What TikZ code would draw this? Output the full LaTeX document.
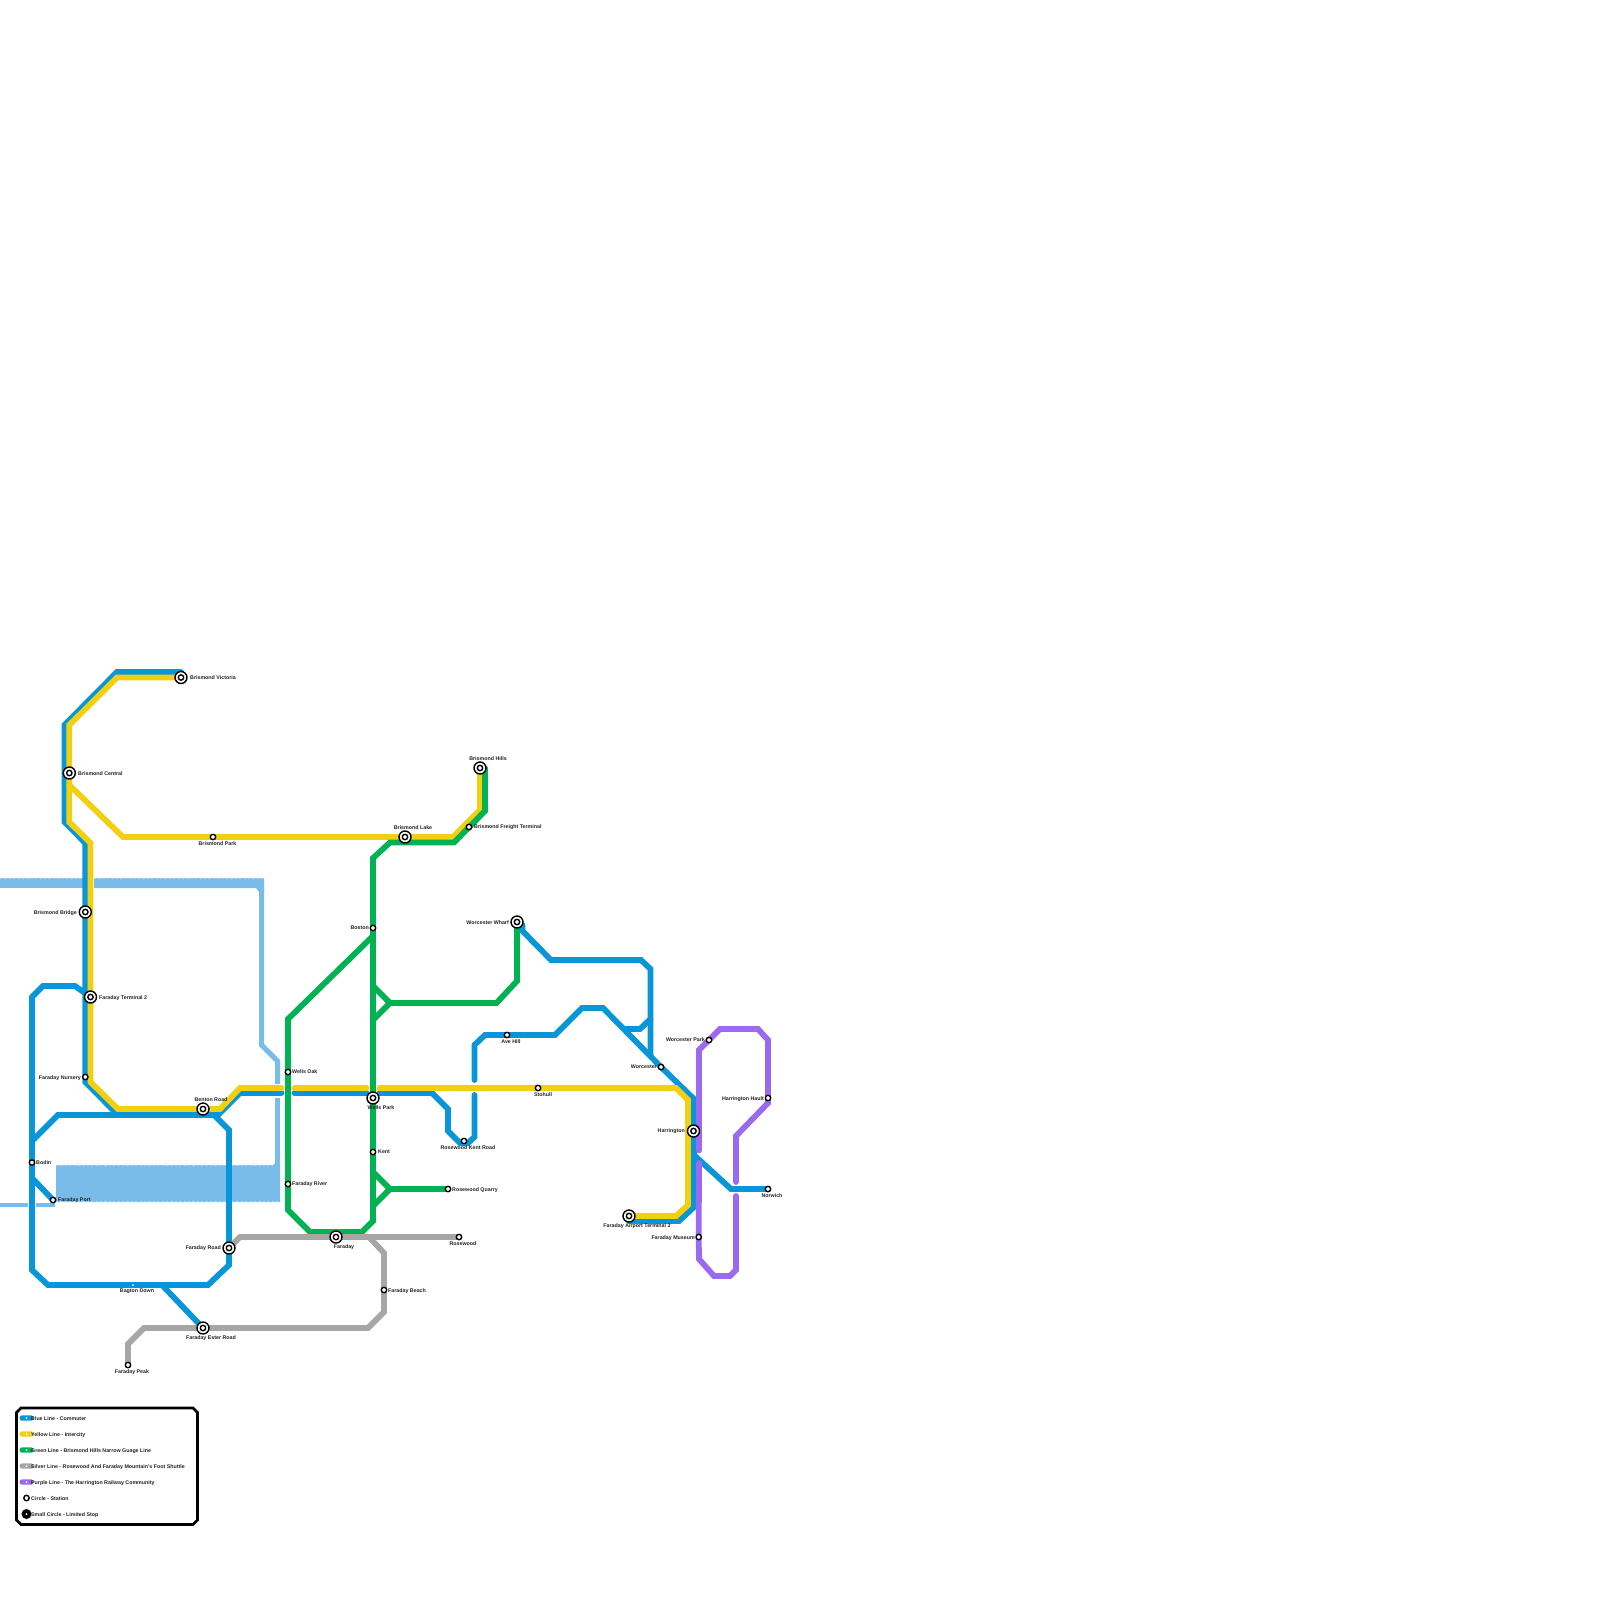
\documentclass[tikz,border=0pt]{standalone}
\usepackage{fontspec}
\setmainfont{Liberation Sans}
\pgfdeclarelayer{lines}
\pgfsetlayers{lines,main}
\definecolor{blueL}{HTML}{0996D8}
\definecolor{yellowL}{HTML}{F2CF11}
\definecolor{greenL}{HTML}{00B252}
\definecolor{grayL}{HTML}{A6A6A6}
\definecolor{purpleL}{HTML}{9B6AEE}
\definecolor{waterL}{HTML}{7ABCE9}
\definecolor{ink}{HTML}{222222}
\tikzset{
  stn/.style={circle,draw=black,fill=white,line width=1.4pt,minimum size=5.4pt,inner sep=0pt},
  hub/.style={circle,draw=black,fill=white,line width=1.4pt,minimum size=12pt,inner sep=0pt,
    path picture={\draw[black,line width=1.4pt] (path picture bounding box.center) circle (2.7pt);}},
  tiny/.style={circle,fill=white,minimum size=2pt,inner sep=0pt},
  lab/.style={font=\fontsize{5.3}{5.3}\selectfont\bfseries,text=ink,inner sep=0pt,yshift=-0.7pt},
  trk/.style={line width=5.8pt,line cap=round,line join=miter,miter limit=3},
  tb/.style={trk,draw=blueL},
  ty/.style={trk,draw=yellowL},
  tg/.style={trk,draw=greenL},
  ts/.style={trk,draw=grayL},
  tp/.style={trk,draw=purpleL},
  water/.style={line width=5pt,draw=waterL,line cap=butt,line join=miter},
  shore/.style={draw=white,opacity=.4,line width=.7pt,dash pattern=on 2.2pt off 2.2pt},
  pill/.style={rounded corners=2.5pt,minimum width=14pt,minimum height=5.4pt,inner sep=0pt},
}
\begin{document}
\begin{tikzpicture}[x=1pt,y=-1pt]
\useasboundingbox (0,0) rectangle (1600,1600);
% stations
\node[hub] (bv) at (181,677.5) {};
\node[hub] (bc) at (69.3,773) {};
\node[stn] (bp) at (213,837) {};
\node[hub] (bb) at (85.3,912) {};
\node[hub] (ft) at (90.5,997) {};
\node[stn] (fn) at (85.3,1077) {};
\node[hub] (br) at (203,1109) {};
\node[stn] (bo) at (32,1162.5) {};
\node[stn] (fp) at (53,1200) {};
\node[hub] (fr) at (229,1248) {};
\node[tiny] (bd) at (133,1285) {};
\node[hub] (fe) at (203,1328) {};
\node[stn] (pk) at (128,1365) {};
\node[hub] (fa) at (336,1237) {};
\node[stn] (fb) at (384,1290) {};
\node[stn] (wo) at (288,1072) {};
\node[stn] (fv) at (288,1184) {};
\node[hub] (wp) at (373,1098) {};
\node[stn] (ke) at (373,1152) {};
\node[stn] (rq) at (448,1189) {};
\node[stn] (rk) at (464,1141) {};
\node[stn] (rw) at (459,1237) {};
\node[stn] (ah) at (507,1035) {};
\node[stn] (sh) at (538,1088) {};
\node[stn] (wc) at (661,1067) {};
\node[stn] (wk) at (709,1040) {};
\node[stn] (hh) at (768,1098) {};
\node[hub] (ha) at (693.5,1131) {};
\node[hub] (at) at (629,1216) {};
\node[stn] (fm) at (698.7,1237) {};
\node[stn] (nw) at (768,1189) {};
\node[hub] (bh) at (480,768) {};
\node[hub] (bl) at (405,837) {};
\node[stn] (bf) at (469,827) {};
\node[stn] (bs) at (373,928) {};
\node[hub] (ww) at (517,922) {};
% labels
\node[lab,anchor=west] (tbv) at (190,677) {Brismond Victoria};
\node[lab,anchor=west] (tbc) at (78,773) {Brismond Central};
\node[lab] (tbp) at (217.5,843) {Brismond Park};
\node[lab,anchor=east] (tbb) at (77,912) {Brismond Bridge};
\node[lab,anchor=west] (tft) at (99,997) {Faraday Terminal 2};
\node[lab,anchor=east] (tfn) at (81,1077) {Faraday Nursery};
\node[lab] (tbr) at (211,1099) {Benton Road};
\node[lab,anchor=west] (tbo) at (36,1162) {Bodin};
\node[lab,anchor=west] (tfp) at (58,1199) {Faraday Port};
\node[lab,anchor=east] (tfr) at (221,1247) {Faraday Road};
\node[lab] (tbd) at (137,1291) {Bagton Down};
\node[lab] (tfe) at (211,1337) {Faraday Ester Road};
\node[lab] (tpk) at (132,1371) {Faraday Peak};
\node[lab] (tfa) at (344,1246) {Faraday};
\node[lab,anchor=west] (tfb) at (388,1290) {Faraday Beach};
\node[lab,anchor=west] (two) at (292,1071) {Wells Oak};
\node[lab,anchor=west] (tfv) at (292,1183) {Faraday River};
\node[lab] (twp) at (381,1107) {Wells Park};
\node[lab,anchor=west] (tke) at (378,1151) {Kent};
\node[lab,anchor=west] (trq) at (452,1189) {Rosewood Quarry};
\node[lab] (trk) at (468,1147) {Rosewood Kent Road};
\node[lab] (trw) at (463,1243) {Rosewood};
\node[lab] (tah) at (511,1041) {Ave Hill};
\node[lab] (tsh) at (543,1094) {Stohull};
\node[lab,anchor=east] (twc) at (657,1066) {Worcester};
\node[lab,anchor=east] (twk) at (705,1039) {Worcester Park};
\node[lab,anchor=east] (thh) at (764,1098) {Harrington Hault};
\node[lab,anchor=east] (tha) at (685,1130) {Harrington};
\node[lab] (tat) at (637,1225) {Faraday Airport Terminal 3};
\node[lab,anchor=east] (tfm) at (695,1237) {Faraday Museum};
\node[lab] (tnw) at (772,1195) {Norwich};
\node[lab] (tbh) at (488,758) {Brismond Hills};
\node[lab] (tbl) at (413,827) {Brismond Lake};
\node[lab,anchor=west] (tbf) at (474,826) {Brismond Freight Terminal};
\node[lab,anchor=east] (tbs) at (369,927) {Boston};
\node[lab,anchor=east] (tww) at (509,922) {Worcester Wharf};
% key
\draw[black,line width=2.6pt,line join=miter] (21,1408) -- (193,1408) -- (197.5,1412.5) -- (197.5,1520) -- (193,1524.5) -- (21,1524.5) -- (16.5,1520) -- (16.5,1412.5) -- cycle;
\node[pill,fill=blueL] (k1) at (26.5,1418) {};
\node[pill,fill=yellowL] (k2) at (26.5,1434) {};
\node[pill,fill=greenL] (k3) at (26.5,1450) {};
\node[pill,fill=grayL] (k4) at (26.5,1466) {};
\node[pill,fill=purpleL] (k5) at (26.5,1482) {};
\node[stn] (k6) at (26.5,1498) {};
\node[circle,fill=black,minimum size=10pt,inner sep=0pt] (k7) at (26.5,1514) {};
\foreach \k in {1,2,3,4,5,7} \node[tiny] (d\k) at (k\k.center) {};
\node[lab,anchor=west] (l1) at (31,1418) {Blue Line - Commuter};
\node[lab,anchor=west] (l2) at (31,1434) {Yellow Line - Intercity};
\node[lab,anchor=west] (l3) at (31,1450) {Green Line - Brismond Hills Narrow Guage Line};
\node[lab,anchor=west] (l4) at (31,1466) {Silver Line - Rosewood And Faraday Mountain's Foot Shuttle};
\node[lab,anchor=west] (l5) at (31,1482) {Purple Line - The Harrington Railway Community};
\node[lab,anchor=west] (l6) at (31,1498) {Circle - Station};
\node[lab,anchor=west] (l7) at (31,1514) {Small Circle - Limited Stop};
\begin{pgfonlayer}{lines}
% water
\fill[waterL] (0,878) rectangle (82.5,888);
\fill[waterL,rounded corners=0.6pt] (94,878) -- (264,878) -- (264,892) -- (259,892) -- (256,888) -- (94,888) -- cycle;
\draw[water] (261.5,885) -- (261.5,1045) -- (277.5,1061) -- (277.5,1084);
\draw[water] (277.5,1098) -- (277.5,1170);
\fill[waterL] (56,1165) -- (273,1165) -- (280,1158) -- (280,1202) -- (56,1202) -- cycle;
\draw[water,line width=4.6pt] (0,1205) -- (28,1205);
\draw[water,line width=4.6pt] (36,1205) -- (53,1205) -- (fp.center);
\draw[shore] (0,878.3) -- (82,878.3);
\draw[shore] (94,878.3) -- (264,878.3);
\draw[shore] (56,1165.3) -- (273,1165.3);
\draw[shore] (56,1201.7) -- (280,1201.7);
% blue
\draw[tb] ([yshift=5.5pt]bv.center) -- (117,672) -- (64.5,725) -- (64.5,822) -- (85.3,843) -- (bb.center) -- (fn.center) -- (85.3,1082) -- (115,1112);
\draw[tb] (32,997) -- (43,986) -- (75,986) -- (ft.center);
\draw[tb] (32,997) -- (bo.center) -- (32,1270) -- (48,1285) -- (bd.center) -- (208,1285) -- (229,1265) -- (fr.center) -- (229,1130) -- (214,1115);
\draw[tb] (33,1140) -- (58,1115) -- (218,1115) -- (240,1093) -- (281.5,1093);
\draw[tb] (294.5,1093) -- (366.5,1093);
\draw[tb] (379.5,1093) -- (432,1093) -- (448,1109) -- (448,1131) -- (460,1143) -- (468,1143) -- (474.5,1137) -- (474.5,1095);
\draw[tb] (474.5,1080) -- (474.5,1045) -- (485,1035) -- (ah.center) -- (555,1035) -- (582,1008) -- (603,1008) -- (wc.center) -- (694,1099) -- (694,1207) -- (679,1221) -- (629,1221);
\draw[tb] (522.5,925) -- (522.5,931) -- (551,960) -- (641,960) -- (650.5,969) -- (650.5,1055);
\draw[tb] (650.5,1019) -- (640,1029) -- (625,1029);
\draw[tb] (694,1155) -- (731,1189) -- (nw.center);
\draw[tb] (162,1285) -- (fe.center);
\draw[tb] (32,1178) -- (fp.center);
% yellow
\draw[ty] (bv.center) -- (117,677.5) -- (69.3,725) -- (69.3,822) -- (90.5,843) -- (90.5,1082) -- (118,1109) -- (br.center) -- (220,1109) -- (240,1088) -- (281.5,1088);
\draw[ty] (294.5,1088) -- (366.5,1088);
\draw[ty] (379.5,1088) -- (676,1088) -- (688,1100) -- (688,1205) -- (676,1216) -- (at.center);
\draw[ty] (69.3,785) -- (123,837) -- (bp.center) -- (bl.center) -- (453,837) -- (480,810) -- (bh.center);
% green
\draw[tg] ([xshift=5pt]bh.center) -- (485,811) -- (454,842.5) -- (390,842.5) -- (373,858) -- (bs.center) -- (wp.center) -- (ke.center) -- (373,1221) -- (362,1232) -- (310,1232) -- (288,1210) -- (fv.center) -- (wo.center) -- (288,1019) -- (373,936);
\draw[tg] (ww.center) -- (517,981) -- (496.5,1003) -- (390,1003) -- (373,986);
\draw[tg] (390,1003) -- (373,1020);
\draw[tg] (rq.center) -- (390,1189) -- (373,1172);
\draw[tg] (390,1189) -- (373,1206);
% silver
\draw[ts] (pk.center) -- (128,1344) -- (144,1328) -- (fe.center) -- (368,1328) -- (384,1312) -- (fb.center) -- (384,1253) -- (369,1237);
\draw[ts] (fr.center) -- (240,1237) -- (fa.center) -- (rw.center);
% purple
\draw[tp] (699,1150.5) -- (699,1050) -- (wk.center) -- (720,1029) -- (758,1029) -- (768,1040) -- (hh.center) -- (768,1103) -- (736,1136) -- (736,1182);
\draw[tp] (736,1196) -- (736,1270) -- (730,1276) -- (714,1276) -- (699,1259) -- (fm.center) -- (699,1163);
\end{pgfonlayer}
\end{tikzpicture}
\end{document}
